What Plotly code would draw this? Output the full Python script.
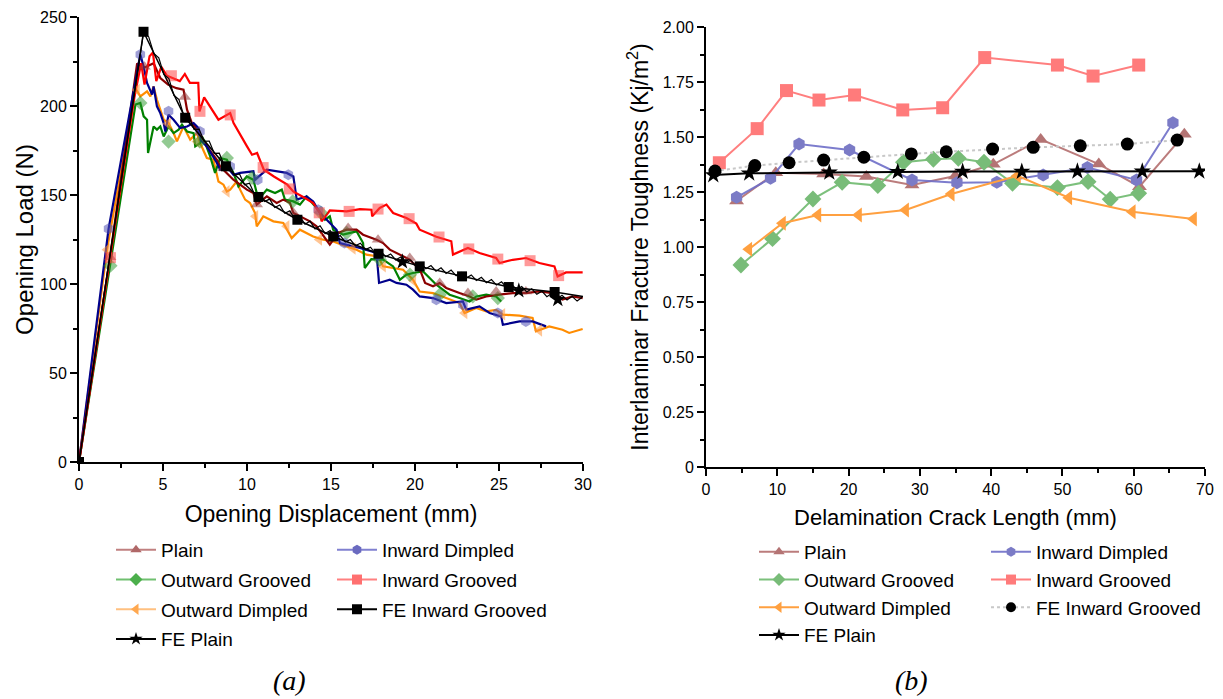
import plotly.graph_objects as go

# ---------------- Panel (a): load vs displacement ----------------
plain_x = [0, 1.8, 3.46, 3.7, 4.0, 4.44, 4.84, 5.3, 5.8, 6.22, 6.43, 6.72, 7.1, 7.61, 8.21, 8.4, 9.19, 9.99, 10.38, 10.58,
           11.18, 11.77, 12.16, 12.56, 12.76, 13.15, 13.75, 14.14, 14.93, 15.43, 15.93, 16.52, 16.91, 17.71, 18.1, 18.5,
           18.9, 19.29, 19.69, 19.88, 20.3, 20.6, 21.07, 21.47, 21.86, 22.65, 23.25, 23.65, 24.24, 25.03, 25.82, 26.61,
           27.4, 28.2, 28.78, 29.38, 29.98]
plain_y = [0, 112, 224, 221, 222, 224, 215.7, 212, 210, 209.2, 197.9, 190.4, 186, 177.3, 169.8, 166, 158.6, 153, 151.1,
           144.6, 149.2, 145.5, 147.4, 145.5, 139.9, 138, 135.2, 132.4, 122.1, 128.7, 130.5, 130.5, 127.7, 124.9, 123,
           119.3, 117.4, 115.5, 113.7, 111.8, 108, 100.6, 98.7, 100.6, 97.8, 94.9, 93, 91.2, 93, 94, 94.9, 94.9, 95.8,
           94.9, 91.2, 93, 92.1]
plain_mx = [1.85, 3.9, 6.3, 8.6, 10.58, 12.76, 16.02, 17.8, 19.69, 21.47, 23.15, 24.83, 26.6]
plain_my = [115, 222, 205, 165, 144.6, 140, 131.5, 124.9, 114.6, 100.6, 94.9, 95.8, 95.8]

indimp_x = [0, 1.76, 3.65, 3.85, 4.05, 4.35, 4.44, 4.64, 4.84, 5.04, 5.14, 5.33, 5.63, 6.03, 6.43, 6.82, 7.11, 7.21,
            7.61, 8.21, 8.4, 8.8, 9.19, 9.59, 10.38, 10.48, 11.18, 11.77, 12.36, 12.76, 12.96, 13.55, 13.94, 14.24,
            14.54, 15.33, 15.53, 16.72, 17.71, 17.86, 18.5, 18.9, 19.49, 19.88, 20.28, 21.07, 21.86, 22.85, 23.05,
            23.84, 24.44, 25.13, 25.23, 26.22, 27.0, 27.8]
indimp_y = [0, 131, 228.9, 222, 213, 206.4, 211, 199.8, 196, 190.4, 185.7, 195.1, 192.3, 187.6, 188.5, 190.4, 187.6,
            181, 177.3, 168, 164.2, 166, 161.4, 162.4, 163.3, 158.6, 164.2, 163.3, 162.4, 160.4, 147.4, 149.2, 146.4,
            141.7, 138, 130.5, 123, 120.2, 117.4, 100.6, 102.4, 100.6, 99.6, 96.8, 93, 92.1, 89.3, 90.2, 85.6, 87.4,
            83.7, 81.8, 77.1, 79, 79, 76.2]
indimp_mx = [1.76, 3.65, 5.33, 7.2, 9.0, 10.64, 12.46, 14.24, 15.8, 17.8, 21.27, 22.85, 24.93, 26.6]
indimp_my = [131, 229, 197, 185.7, 166, 158.6, 161.4, 141.7, 123, 116, 91.2, 88.4, 83.7, 79]

outgr_x = [0, 1.87, 3.36, 3.65, 3.85, 4.05, 4.11, 4.44, 4.64, 4.84, 5.04, 5.33, 5.63, 5.93, 6.13, 6.43, 6.82, 6.92,
           7.21, 7.32, 7.51, 7.81, 8.1, 8.4, 8.8, 9.19, 9.49, 9.99, 10.38, 10.68, 11.18, 11.67, 12.07, 12.26, 12.76,
           13.15, 13.55, 14.14, 14.64, 14.93, 15.13, 15.72, 16.52, 16.91, 17.01, 17.4, 18.1, 18.7, 19.1, 19.49, 19.88,
           20.48, 20.87, 21.27, 21.66, 22.06, 22.65, 23.25, 23.65, 24.24, 24.83, 25.13]
outgr_y = [0, 110.3, 200.8, 201.7, 194.2, 192.3, 173.6, 188.5, 186.7, 188.5, 182.9, 188.5, 184.8, 186.7, 189.5, 185.7,
           184.8, 177.3, 179.2, 182.9, 179.2, 171.7, 162.4, 170.8, 169.8, 162.4, 154.8, 160.4, 158.6, 147.4, 153, 151.1,
           153, 147.4, 146.4, 144.6, 149.2, 142.7, 136.1, 138, 130.5, 127.7, 129.6, 123, 109, 114, 113.7, 109.9, 102.4,
           105.2, 106.2, 107.1, 103.4, 99.6, 96.8, 94, 92.1, 90.2, 93, 94, 93, 90.2]
outgr_mx = [1.87, 3.65, 5.33, 7.2, 8.8, 10.3, 12.72, 14.4, 15.93, 17.9, 19.7, 21.47, 23.44, 24.93]
outgr_my = [110.3, 201.7, 180, 180, 170.8, 159.7, 146.4, 140, 128.7, 113.7, 105.2, 94, 93, 92.1]

ingr_x = [0, 1.8, 3.3, 3.7, 3.9, 4.2, 4.4, 4.6, 4.9, 5.24, 5.5, 6.0, 6.3, 6.6, 7.1, 7.17, 7.45, 8.3, 9.0, 9.2, 10.0,
          10.3, 10.6, 11.0, 11.6, 12.4, 12.75, 13.15, 13.45, 13.94, 14.34, 14.44, 14.93, 15.93, 16.72, 17.41, 17.45,
          17.9, 18.3, 18.7, 19.49, 20.08, 20.28, 21.27, 22.16, 22.26, 23.15, 23.84, 24.83, 25.03, 25.82, 26.61, 27.4,
          28.3, 28.49, 28.99, 29.98]
ingr_y = [0, 112, 205, 224, 212, 228, 230, 214, 222, 217, 216, 214, 218, 213, 213, 197, 204.8, 192.3, 196, 190.4,
          177.3, 172.6, 173.6, 164.2, 160.4, 155.8, 152, 150, 148.3, 145.5, 140, 135.2, 141.3, 140.8, 142.1, 141.7, 138,
          142.7, 144.6, 139.9, 137.1, 133.9, 130.5, 126.5, 124, 116.5, 120.2, 117.4, 114.6, 111.8, 113.6, 114.6, 111.8,
          109.9, 104.3, 106.5, 106.5]
ingr_mx = [1.87, 5.5, 7.2, 9.0, 10.96, 12.52, 14.3, 16.08, 17.8, 19.65, 21.43, 23.2, 24.93, 26.85, 28.55]
ingr_my = [114.8, 217, 197, 195, 165.4, 153.4, 140, 140.8, 142.1, 136.7, 126.4, 119.7, 114, 113.1, 104.7]

outdimp_x = [0, 1.67, 3.36, 3.65, 4.05, 4.25, 4.44, 4.64, 5.04, 5.33, 5.63, 5.83, 6.22, 6.62, 7.02, 7.21, 7.61, 8.0,
             8.3, 8.6, 8.8, 9.0, 9.39, 9.59, 9.89, 10.18, 10.48, 10.58, 10.97, 11.57, 12.16, 12.66, 13.15, 13.94,
             14.54, 15.13, 15.93, 16.52, 17.11, 17.8, 18.1, 18.7, 19.29, 19.88, 20.28, 21.07, 21.86, 22.65, 22.95,
             23.65, 24.24, 24.83, 25.23, 26.22, 27.0, 27.2, 27.99, 28.78, 29.18, 29.98]
outdimp_y = [0, 119.3, 210, 205.4, 208.2, 205.4, 211, 203.5, 192.3, 190.4, 184.8, 180.1, 188.5, 181.1, 184.8, 179.2,
             170.8, 169.8, 157.6, 155.8, 152, 153, 157.6, 153, 147.4, 145.5, 139.9, 132.4, 138, 135.2, 134.3, 125.8,
             130.5, 126.7, 124.9, 123.9, 121.1, 119.3, 116.5, 115.5, 109.9, 109, 108, 102.4, 95.8, 94.9, 92.1, 89.3,
             83.7, 86.5, 84.6, 85.5, 82.8, 82.2, 80.9, 73.4, 76.2, 74.3, 72.5, 74.7]
outdimp_mx = [1.67, 3.45, 5.3, 7.02, 8.8, 10.5, 12.36, 14.3, 16.3, 18.1, 19.9, 22.95, 25.2, 27.4]
outdimp_my = [119.3, 209, 190, 180, 152, 138, 132.4, 125, 120, 110, 102, 83.7, 83, 74]

fe_ig_x = [0, 3.84, 6.32, 8.74, 10.68, 13.0, 15.13, 17.83, 20.28, 22.8, 25.58, 28.31, 30]
fe_ig_y = [0, 241.7, 193.4, 166.1, 148.9, 136.1, 126.7, 117, 109.9, 104.3, 98.3, 95.5, 93]

fe_plain_x = [0, 3.85, 4.15, 4.45, 4.75, 5.05, 5.35, 5.65, 5.95, 6.25, 6.55, 6.85, 7.15, 7.45, 7.75, 8.05, 8.35, 8.65,
              8.95, 9.25, 9.55, 9.85, 10.15, 10.45, 10.75, 11.05, 11.35, 11.65, 11.95, 12.25, 12.55, 12.85, 13.15,
              13.45, 13.75, 14.05, 14.35, 14.65, 14.95, 15.25, 15.55, 15.85, 16.15, 16.45, 16.75, 17.05, 17.35, 17.65,
              17.95, 18.25, 18.55, 18.85, 19.15, 19.45, 19.75, 20.05, 20.35, 20.65, 20.95, 21.25, 21.55, 21.85, 22.15,
              22.45, 22.75, 23.05, 23.35, 23.65, 23.95, 24.25, 24.55, 24.85, 25.15, 25.45, 25.75, 26.05, 26.35, 26.65,
              26.95, 27.25, 27.55, 27.85, 28.15, 28.45, 28.75, 29.05, 29.35, 29.65, 29.95]
fe_plain_y = [0, 241.7, 238.8, 229.5, 227.1, 217.7, 215.4, 206.0, 203.6, 194.3, 193.8, 186.9, 187.0, 180.2, 180.3,
              173.4, 173.5, 166.6, 167.2, 161.1, 161.9, 155.8, 156.6, 150.4, 151.0, 146.4, 147.7, 143.0, 144.4, 139.7,
              141.1, 136.4, 137.9, 133.6, 135.3, 131.0, 132.7, 128.3, 130.0, 125.8, 127.2, 123.6, 125.0, 121.5, 122.9,
              119.3, 120.7, 117.1, 118.7, 115.3, 116.9, 113.5, 115.2, 111.8, 113.4, 110.1, 111.7, 108.6, 110.4, 107.2,
              109.1, 105.9, 107.8, 104.6, 106.4, 103.3, 105.1, 102.0, 103.8, 100.7, 102.5, 99.4, 101.2, 98.1, 99.9,
              96.8, 98.6, 95.5, 97.3, 94.2, 96.0, 92.9, 94.8, 91.6, 93.7, 91.0, 93.1, 90.4, 92.5]
fe_plain_mx = [19.25, 26.18, 28.5]
fe_plain_my = [112.5, 96.2, 91.3]

# ---------------- Panel (b): toughness vs crack length ----------------
b_plain_x = [4.29, 9.79, 16.5, 22.5, 28.9, 34.97, 40.3, 46.95, 55.1, 60.8, 67.1]
b_plain_y = [1.209, 1.338, 1.332, 1.32, 1.282, 1.323, 1.376, 1.489, 1.377, 1.274, 1.512]
b_indimp_x = [4.29, 9.05, 13.05, 20.14, 28.9, 35.2, 40.8, 47.3, 53.5, 60.4, 65.5]
b_indimp_y = [1.226, 1.312, 1.468, 1.441, 1.305, 1.292, 1.294, 1.327, 1.361, 1.305, 1.565]
b_outgr_x = [4.9, 9.33, 15.0, 19.1, 24.1, 27.7, 31.9, 35.4, 39.0, 43.0, 49.3, 53.6, 56.7, 60.7]
b_outgr_y = [0.918, 1.038, 1.218, 1.294, 1.279, 1.385, 1.399, 1.403, 1.385, 1.29, 1.27, 1.297, 1.217, 1.244]
b_ingr_x = [1.87, 7.18, 11.29, 15.85, 20.84, 27.6, 33.2, 39.1, 49.3, 54.3, 60.7]
b_ingr_y = [1.383, 1.538, 1.711, 1.668, 1.691, 1.623, 1.633, 1.861, 1.827, 1.777, 1.827]
b_outdimp_x = [6.01, 10.73, 15.7, 21.4, 28.0, 34.4, 43.7, 50.9, 59.8, 68.4]
b_outdimp_y = [0.99, 1.108, 1.145, 1.145, 1.168, 1.241, 1.324, 1.224, 1.16, 1.127]
b_fe_ig_x = [1.26, 6.85, 11.65, 16.5, 22.14, 28.8, 33.7, 40.2, 45.9, 52.5, 59.1, 66.1]
b_fe_ig_y = [1.345, 1.37, 1.383, 1.395, 1.408, 1.423, 1.433, 1.445, 1.453, 1.46, 1.468, 1.486]
b_fe_plain_x = [1.02, 6.06, 17.3, 26.9, 36.0, 44.3, 52.1, 61.2, 69.2]
b_fe_plain_y = [1.327, 1.335, 1.339, 1.342, 1.343, 1.343, 1.344, 1.344, 1.344]

y2_ticks = [0, 0.25, 0.5, 0.75, 1.0, 1.25, 1.5, 1.75, 2.0]
y2_labels = ["0", "0.25", "0.50", "0.75", "1.00", "1.25", "1.50", "1.75", "2.00"]

FONT = "Arial, 'Liberation Sans', sans-serif"
fig = go.Figure()

# ---- panel (a) traces ----
a_series = [
    ("Outward Dimpled", outdimp_x, outdimp_y, outdimp_mx, outdimp_my, "#FF8C00", "rgba(255,150,60,0.55)", "triangle-left"),
    ("Outward Grooved", outgr_x, outgr_y, outgr_mx, outgr_my, "#008000", "rgba(40,150,40,0.5)", "diamond"),
    ("Plain", plain_x, plain_y, plain_mx, plain_my, "#8B0000", "rgba(150,60,60,0.55)", "triangle-up"),
    ("Inward Dimpled", indimp_x, indimp_y, indimp_mx, indimp_my, "#00008B", "rgba(80,80,180,0.55)", "hexagon"),
    ("Inward Grooved", ingr_x, ingr_y, ingr_mx, ingr_my, "#FF0000", "rgba(255,70,70,0.55)", "square"),
]
for nm, x, y, mx, my, lc, mc, sym in a_series:
    fig.add_trace(go.Scatter(x=x, y=y, mode="lines", line=dict(color=lc, width=2.2),
                             showlegend=False, xaxis="x", yaxis="y", hoverinfo="skip"))
for nm, x, y, mx, my, lc, mc, sym in a_series:
    fig.add_trace(go.Scatter(x=mx, y=my, mode="markers",
                             marker=dict(symbol=sym, size=11, color=mc, line=dict(width=0)),
                             showlegend=False, xaxis="x", yaxis="y", hoverinfo="skip"))

fig.add_trace(go.Scatter(x=fe_ig_x, y=fe_ig_y, mode="lines", line=dict(color="black", width=1.5),
                         showlegend=False, xaxis="x", yaxis="y"))
fig.add_trace(go.Scatter(x=fe_ig_x[:-1], y=fe_ig_y[:-1], mode="markers",
                         marker=dict(symbol="square", size=10, color="black"),
                         showlegend=False, xaxis="x", yaxis="y"))
fig.add_trace(go.Scatter(x=fe_plain_x, y=fe_plain_y, mode="lines", line=dict(color="black", width=1.2),
                         showlegend=False, xaxis="x", yaxis="y"))
fig.add_trace(go.Scatter(x=fe_plain_mx, y=fe_plain_my, mode="markers",
                         marker=dict(symbol="star", size=12, color="black"),
                         showlegend=False, xaxis="x", yaxis="y"))

# legend entries for panel (a)
a_leg = [
    ("Plain", "#C08080", "#B06868", "triangle-up", "solid", "legend", "g1"),
    ("Outward Grooved", "#70C070", "#4CAF4C", "diamond", "solid", "legend", "g2"),
    ("Outward Dimpled", "#FFC080", "#FFA850", "triangle-left", "solid", "legend", "g3"),
    ("FE Plain", "black", "black", "star", "solid", "legend", "g4"),
    ("Inward Dimpled", "#8080D0", "#6A6AC0", "hexagon", "solid", "legend2", "g5"),
    ("Inward Grooved", "#FF8080", "#FF7070", "square", "solid", "legend2", "g6"),
    ("FE Inward Grooved", "black", "black", "square", "solid", "legend2", "g7"),
]
for nm, lc, mc, sym, dash, lg, grp in a_leg:
    fig.add_trace(go.Scatter(x=[None], y=[None], name=nm, mode="lines+markers",
                             line=dict(color=lc, width=2, dash=dash), marker=dict(symbol=sym, size=10, color=mc),
                             legend=lg, legendgroup=grp, xaxis="x", yaxis="y"))

# ---- panel (b) traces ----
b_series = [
    ("Plain", b_plain_x, b_plain_y, "rgba(180,110,110,0.9)", "#B47474", "triangle-up", "solid", "legend3", "h1"),
    ("Inward Dimpled", b_indimp_x, b_indimp_y, "rgba(110,110,200,0.9)", "#7B7BC6", "hexagon", "solid", "legend4", "h5"),
    ("Outward Grooved", b_outgr_x, b_outgr_y, "rgba(110,185,110,0.9)", "#78BC78", "diamond", "solid", "legend3", "h2"),
    ("Inward Grooved", b_ingr_x, b_ingr_y, "#FF7F7F", "#FF7B7B", "square", "solid", "legend4", "h6"),
    ("Outward Dimpled", b_outdimp_x, b_outdimp_y, "#FFA040", "#FFA040", "triangle-left", "solid", "legend3", "h3"),
    ("FE Inward Grooved", b_fe_ig_x, b_fe_ig_y, "#C8C8C8", "black", "circle", "dot", "legend4", "h7"),
    ("FE Plain", b_fe_plain_x, b_fe_plain_y, "black", "black", "star", "solid", "legend3", "h4"),
]
for nm, x, y, lc, mc, sym, dash, lg, grp in b_series:
    fig.add_trace(go.Scatter(x=x, y=y, name=nm, mode="lines+markers",
                             line=dict(color=lc, width=2, dash=dash),
                             marker=dict(symbol=sym, size=13, color=mc, line=dict(width=0)),
                             showlegend=False, xaxis="x2", yaxis="y2"))
# legend entries for panel (b) (smaller symbols, as in the reference legend)
for nm, x, y, lc, mc, sym, dash, lg, grp in b_series:
    fig.add_trace(go.Scatter(x=[None], y=[None], name=nm, mode="lines+markers",
                             line=dict(color=lc, width=2, dash=dash),
                             marker=dict(symbol=sym, size=10, color=mc, line=dict(width=0)),
                             legend=lg, legendgroup=grp, xaxis="x2", yaxis="y2"))

W, H = 1223, 699
def px(v):
    return v / W
def py(v):
    return 1 - v / H

axis_common = dict(showline=True, linecolor="black", linewidth=2, ticks="outside", ticklen=7, tickwidth=1.5,
                   tickcolor="black", showgrid=False, zeroline=False, mirror=False, automargin=False,
                   tickfont=dict(family=FONT, size=16, color="black"))

legend_common = dict(orientation="v", xanchor="left", yanchor="top", bgcolor="rgba(0,0,0,0)",
                     font=dict(family=FONT, size=19, color="black"), itemwidth=40,
                     itemclick=False, itemdoubleclick=False)

fig.update_layout(
    width=W, height=H, margin=dict(l=0, r=0, t=0, b=0, autoexpand=False),
    paper_bgcolor="white", plot_bgcolor="white",
    font=dict(family=FONT, color="black"),
    xaxis=dict(domain=[px(79), px(583)], range=[0, 30], dtick=5, anchor="y",
               minor=dict(ticks="outside", ticklen=4, dtick=2.5, tickcolor="black", tickwidth=1.5),
               title=dict(text="Opening Displacement (mm)", font=dict(family=FONT, size=23), standoff=14),
               **axis_common),
    yaxis=dict(domain=[py(462), py(17)], range=[0, 250], dtick=50, anchor="x",
               minor=dict(ticks="outside", ticklen=4, dtick=25, tickcolor="black", tickwidth=1.5),
               title=dict(text="Opening Load (N)", font=dict(family=FONT, size=24), standoff=0),
               **axis_common),
    xaxis2=dict(domain=[px(706), px(1205)], range=[0, 70], dtick=10, anchor="y2",
                minor=dict(ticks="outside", ticklen=4, dtick=5, tickcolor="black", tickwidth=1.5),
                title=dict(text="Delamination Crack Length (mm)", font=dict(family=FONT, size=22), standoff=12),
                **axis_common),
    yaxis2=dict(domain=[py(467), py(27)], range=[0, 2], tickmode="array", tickvals=y2_ticks, ticktext=y2_labels,
                anchor="x2",
                minor=dict(ticks="outside", ticklen=4, tickmode="linear", tick0=0, dtick=0.125,
                           tickcolor="black", tickwidth=1.5),
                title=dict(text="Interlaminar Fracture Toughness (Kj/m<sup>2</sup>)", font=dict(family=FONT, size=23),
                           standoff=8),
                **axis_common),
    legend=dict(x=px(111), y=py(531), tracegroupgap=2, **legend_common),
    legend2=dict(x=px(332), y=py(531), tracegroupgap=2, **legend_common),
    legend3=dict(x=px(754), y=py(533), tracegroupgap=0, **legend_common),
    legend4=dict(x=px(986), y=py(533), tracegroupgap=0, **legend_common),
    annotations=[
        dict(text="<i>(a)</i>", x=px(289), y=py(680), xref="paper", yref="paper", showarrow=False,
             xanchor="center", yanchor="middle",
             font=dict(family="'Liberation Serif', 'Times New Roman', serif", size=28, color="black")),
        dict(text="<i>(b)</i>", x=px(911), y=py(680), xref="paper", yref="paper", showarrow=False,
             xanchor="center", yanchor="middle",
             font=dict(family="'Liberation Serif', 'Times New Roman', serif", size=28, color="black")),
    ],
)

fig.write_html("out.html", config={"displayModeBar": False},
               post_script="document.body.style.margin='0';document.body.style.overflow='hidden';")
